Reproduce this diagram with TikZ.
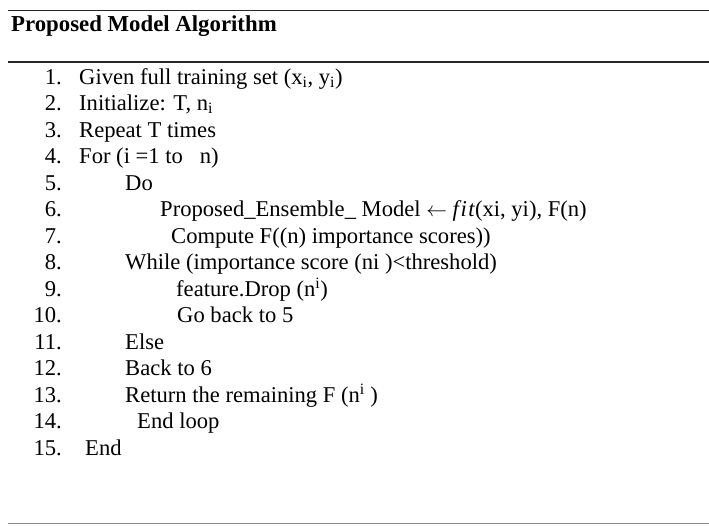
\documentclass[tikz,border=0pt]{standalone}
\usepackage{fontspec}
\setmainfont{Liberation Serif}
\begin{document}
\begin{tikzpicture}[x=1pt,y=-1pt,
  num/.style={anchor=base east,inner sep=0pt,font=\fontsize{22.6}{24}\selectfont},
  txt/.style={anchor=base west,inner sep=0pt,font=\fontsize{22.6}{24}\selectfont},
  rule/.style={line width=1.4pt,draw=black!85}]
\useasboundingbox (0,0) rectangle (709,525);
\fill[white] (0,0) rectangle (709,525);
\coordinate (t1) at (8,10.5); \coordinate (t2) at (709,10.5);
\coordinate (m1) at (8,62); \coordinate (m2) at (709,62);
\coordinate (b1) at (8,523.5); \coordinate (b2) at (709,523.5);
\draw[rule] (t1) -- (t2);
\draw[rule] (m1) -- (m2);
\draw[line width=1.2pt,draw=black!45] (b1) -- (b2);
\node[txt,font=\fontsize{22.8}{24}\selectfont\bfseries] (title) at (11,31) {Proposed Model Algorithm};
\foreach \n in {1,...,15}{
  \pgfmathsetmacro{\yy}{84+(\n-1)*26.5}
  \node[num] (n\n) at (62,\yy) {\n.};
}
\node[txt] (l1) at (79,84) {Given full training set (x\textsubscript{i}, y\textsubscript{i})};
\node[txt] (l2) at (79,110.5) {Initialize: T, n\textsubscript{i}};
\node[txt] (l3) at (79,137) {Repeat T times};
\node[txt] (l4) at (79,163.5) {For (i =1 to \ \ n)};
\node[txt] (l5) at (125,190) {Do};
\node[txt] (l6) at (160,216.5) {Proposed\_Ensemble\_ Model $\leftarrow$ \textit{f\kern1.5pt i\kern1.5pt t}(xi, yi), F(n)};
\node[txt] (l7) at (171,243) {Compute F((n) importance scores))};
\node[txt] (l8) at (125,269.5) {While (importance score (ni )<threshold)};
\node[txt] (l9) at (176,296) {feature.Drop (n\textsuperscript{i})};
\node[txt] (l10) at (177,322.5) {Go back to 5};
\node[txt] (l11) at (125,349) {Else};
\node[txt] (l12) at (125,375.5) {Back to 6};
\node[txt] (l13) at (125,402) {Return the remaining F (n\textsuperscript{i} )};
\node[txt] (l14) at (137,428.5) {End loop};
\node[txt] (l15) at (85,455) {End};
\end{tikzpicture}
\end{document}
